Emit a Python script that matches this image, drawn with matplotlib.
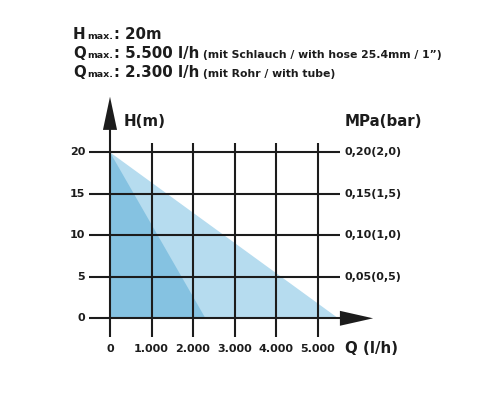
#!/usr/bin/env python3
""" Pump performance chart: delivery head H over flow rate Q. """

import matplotlib
matplotlib.use('Agg')
import matplotlib.pyplot as plt

# Flow ticks (l/h) and their labels
q_ticks = [0, 1000, 2000, 3000, 4000, 5000]
q_labels = ['0', '1.000', '2.000', '3.000', '4.000', '5.000']

# Head ticks (m) with the pressure labels on the right side
h_ticks = [0, 5, 10, 15, 20]
h_labels = ['0', '5', '10', '15', '20']
p_labels = ['', '0,05(0,5)', '0,10(1,0)', '0,15(1,5)', '0,20(2,0)']

# Pump curves (straight lines from Hmax to Qmax)
q_hose = [0, 5500]
h_hose = [20, 0]
q_tube = [0, 2300]
h_tube = [20, 0]

# Header lines: (big prefix, small subscript, big value, small note)
header = [
    ('H', 'max.', ': 20m', ''),
    ('Q', 'max.', ': 5.500 l/h', '(mit Schlauch / with hose 25.4mm / 1\u201d)'),
    ('Q', 'max.', ': 2.300 l/h', '(mit Rohr / with tube)'),
]

# Colours
ink = '#1c1c1c'
light = '#b6dcef'
dark = '#85c2e1'

# Figure of 500x400 px; data is mapped so the chart lands where it should
W, H = 500, 400
fig = plt.figure(figsize=(W / 100, H / 100), dpi=100)
ax = fig.add_axes([0, 0, 1, 1])
x0, sx = 110.0, 0.0415   # px of Q=0, px per l/h
y0, sy = 318.3, 8.3      # px (from top) of H=0, px per m
ax.set_xlim((0 - x0) / sx, (W - x0) / sx)
ax.set_ylim((y0 - H) / sy, y0 / sy)
ax.axis('off')

# Filled areas under the curves
ax.fill([0] + q_hose, [0] + h_hose, color=light, lw=0, zorder=1)
ax.fill([0] + q_tube, [0] + h_tube, color=dark, lw=0, zorder=2)

# Grid lines with tick stubs
q_left = -500
q_right = 5540
h_low = -2.25
h_top = 21.1
lw = 1.5
for h in h_ticks:
    ax.plot([q_left, q_right], [h, h], color=ink, lw=lw, zorder=3,
            solid_capstyle='butt')
for q in q_ticks[1:]:
    ax.plot([q, q], [h_low, h_top], color=ink, lw=lw, zorder=3,
            solid_capstyle='butt')

# Axes with arrow heads
ax.plot([0, 0], [h_low, 23.0], color=ink, lw=lw, zorder=3,
        solid_capstyle='butt')
ax.fill([-170, 170, 0], [22.7, 22.7, 26.7], color=ink, lw=0, zorder=4)
ax.fill([5540, 5540, 6340], [0.9, -0.9, 0], color=ink, lw=0, zorder=4)

# Tick labels
tick_font = dict(fontsize=8, fontweight='bold', color=ink)
for h, lab in zip(h_ticks, h_labels):
    ax.text(-600, h, lab, ha='right', va='center', **tick_font)
for h, lab in zip(h_ticks, p_labels):
    ax.text(5660, h, lab, ha='left', va='center', **tick_font)
for q, lab in zip(q_ticks, q_labels):
    ax.text(q, -3.65, lab, ha='center', va='center', **tick_font)

# Axis titles
title_font = dict(fontsize=10.8, fontweight='bold', color=ink)
ax.text(320, (y0 - 121) / sy, 'H(m)', ha='left', va='center', **title_font)
ax.text(5660, (y0 - 121) / sy, 'MPa(bar)', ha='left', va='center',
        **title_font)
ax.text(5660, -3.65, 'Q (l/h)', ha='left', va='center', **title_font)

# Header, chained piece by piece
renderer = fig.canvas.get_renderer()
baselines = [39, 58, 77]
sizes = [10.8, 6.8, 10.8, 7.8]
gaps = [2, 0, 4, 0]
for base, parts in zip(baselines, header):
    x = 73.0
    for text, size, gap in zip(parts, sizes, gaps):
        if not text:
            continue
        t = fig.text(x / W, 1 - base / H, text, fontsize=size,
                     fontweight='bold', color=ink, ha='left',
                     va='baseline')
        x = t.get_window_extent(renderer).x1 + gap

fig.savefig('out.png', dpi=100)
